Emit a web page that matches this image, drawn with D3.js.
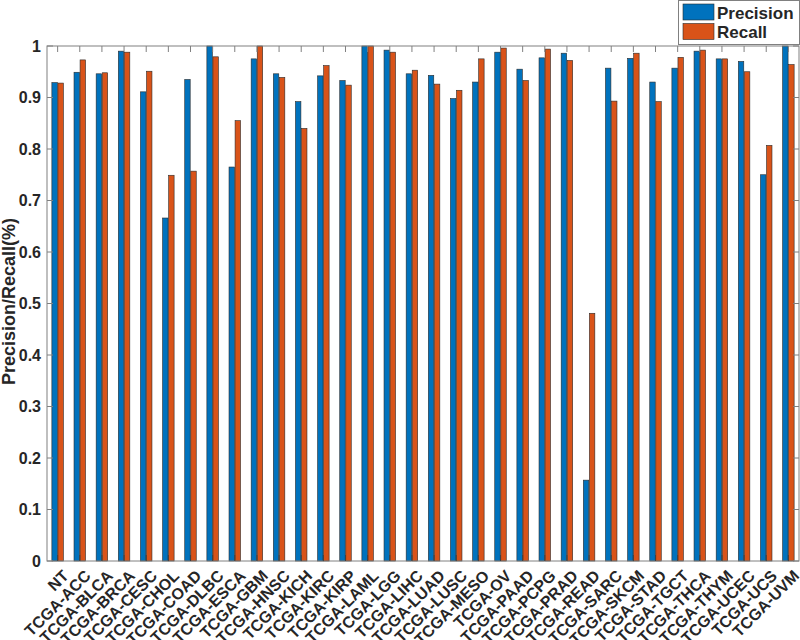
<!DOCTYPE html>
<html>
<head>
<meta charset="utf-8">
<script src="https://cdn.jsdelivr.net/npm/d3@7"></script>
<style>
  body { margin: 0; background: #fff; }
  text { font-family: "Liberation Sans", Arial, Helvetica, sans-serif; font-weight: bold; fill: #262626; }
</style>
</head>
<body>
<div id="chart"></div>
<script>
// classes on the x axis
var categories = ["NT","TCGA-ACC","TCGA-BLCA","TCGA-BRCA","TCGA-CESC","TCGA-CHOL","TCGA-COAD","TCGA-DLBC",
    "TCGA-ESCA","TCGA-GBM","TCGA-HNSC","TCGA-KICH","TCGA-KIRC","TCGA-KIRP","TCGA-LAML","TCGA-LGG",
    "TCGA-LIHC","TCGA-LUAD","TCGA-LUSC","TCGA-MESO","TCGA-OV","TCGA-PAAD","TCGA-PCPG","TCGA-PRAD",
    "TCGA-READ","TCGA-SARC","TCGA-SKCM","TCGA-STAD","TCGA-TGCT","TCGA-THCA","TCGA-THYM","TCGA-UCEC",
    "TCGA-UCS","TCGA-UVM"];

var precision = [0.929,0.949,0.946,0.990,0.911,0.666,0.935,1.000,
    0.765,0.975,0.946,0.892,0.942,0.933,1.000,0.992,
    0.946,0.943,0.898,0.930,0.988,0.955,0.977,0.986,
    0.157,0.957,0.976,0.930,0.957,0.990,0.975,0.970,
    0.750,1.000];

var recall = [0.928,0.973,0.948,0.988,0.951,0.749,0.757,0.979,
    0.855,1.000,0.939,0.840,0.962,0.924,1.000,0.988,
    0.953,0.926,0.914,0.975,0.996,0.933,0.994,0.972,
    0.481,0.893,0.986,0.892,0.978,0.992,0.975,0.950,
    0.807,0.964];

var series = ["Precision", "Recall"];
var colors = ["#0072BD", "#D95319"];
var yTicks = [0,0.1,0.2,0.3,0.4,0.5,0.6,0.7,0.8,0.9,1];

var width = 800, height = 640;
var mLeft = 47, mRight = 799, mTop = 46, mBottom = 561;

var svg = d3.select("#chart").append("svg")
    .attr("width", width)
    .attr("height", height);

var x = d3.scaleLinear()
    .domain([0.52, categories.length + 0.48])
    .range([mLeft, mRight]);

var y = d3.scaleLinear()
    .domain([0, 1])
    .range([mBottom, mTop]);

var step = x(2) - x(1);
var x1 = d3.scaleBand()
    .domain(series)
    .range([-0.26 * step, 0.26 * step])
    .paddingInner(0.1);

var rows = categories.map(function(c, i) {
    return { name: c, i: i + 1, values: [precision[i], recall[i]] };
});

// bars
var groups = svg.selectAll(".group")
    .data(rows)
    .enter().append("g")
    .attr("class", "group")
    .attr("transform", function(d) { return "translate(" + x(d.i) + ",0)"; });

groups.selectAll("rect")
    .data(function(d) { return d.values.map(function(v, k) { return { s: series[k], v: v, k: k }; }); })
    .enter().append("rect")
    .attr("x", function(d) { return x1(d.s); })
    .attr("width", x1.bandwidth())
    .attr("y", function(d) { return y(d.v); })
    .attr("height", function(d) { return y(0) - y(d.v); })
    .attr("fill", function(d) { return colors[d.k]; })
    .attr("stroke", "#2b2b2b")
    .attr("stroke-width", 0.6);

// frame
svg.append("rect")
    .attr("x", mLeft).attr("y", mTop)
    .attr("width", mRight - mLeft).attr("height", mBottom - mTop)
    .attr("fill", "none")
    .attr("stroke", "#808080")
    .attr("stroke-width", 1);

// ticks inside on all four sides
var tickLen = 6;
var xTicks = d3.range(1, categories.length + 1);
svg.selectAll(".xtb").data(xTicks).enter().append("line")
    .attr("x1", function(d) { return x(d); }).attr("x2", function(d) { return x(d); })
    .attr("y1", mBottom).attr("y2", mBottom - tickLen)
    .attr("stroke", "#404040");
svg.selectAll(".xtt").data(xTicks).enter().append("line")
    .attr("x1", function(d) { return x(d); }).attr("x2", function(d) { return x(d); })
    .attr("y1", mTop).attr("y2", mTop + tickLen)
    .attr("stroke", "#808080");
svg.selectAll(".ytl").data(yTicks).enter().append("line")
    .attr("x1", mLeft).attr("x2", mLeft + tickLen)
    .attr("y1", function(d) { return y(d); }).attr("y2", function(d) { return y(d); })
    .attr("stroke", "#808080");
svg.selectAll(".ytr").data(yTicks).enter().append("line")
    .attr("x1", mRight).attr("x2", mRight - tickLen)
    .attr("y1", function(d) { return y(d); }).attr("y2", function(d) { return y(d); })
    .attr("stroke", "#808080");

// y tick labels
svg.selectAll(".ylab").data(yTicks).enter().append("text")
    .attr("x", mLeft - 6)
    .attr("y", function(d) { return y(d); })
    .attr("dy", "0.35em")
    .attr("text-anchor", "end")
    .style("font-size", "16px")
    .text(function(d) { return d3.format("~g")(d); });

// x tick labels, rotated
svg.selectAll(".xlab").data(rows).enter().append("text")
    .attr("transform", function(d) { return "translate(" + (x(d.i) + 4) + "," + (mBottom + 8) + ") rotate(-45)"; })
    .attr("text-anchor", "end")
    .attr("dy", "0.7em")
    .style("font-size", "16px")
    .text(function(d) { return d.name; });

// y axis title
svg.append("text")
    .attr("transform", "translate(15," + ((mTop + mBottom) / 2 - 2) + ") rotate(-90)")
    .attr("text-anchor", "middle")
    .style("font-size", "18px")
    .text("Precision/Recall(%)");

// legend
var legend = svg.append("g").attr("transform", "translate(678,0)");
legend.append("rect")
    .attr("x", 0.5).attr("y", 0.5)
    .attr("width", 121).attr("height", 44)
    .attr("fill", "#fff")
    .attr("stroke", "#808080");
series.forEach(function(s, k) {
    legend.append("rect")
        .attr("x", 5).attr("y", 4 + k * 19.5)
        .attr("width", 31).attr("height", 16)
        .attr("fill", colors[k])
        .attr("stroke", "#2b2b2b")
        .attr("stroke-width", 0.6);
    legend.append("text")
        .attr("x", 39).attr("y", 18.5 + k * 19.5)
        .style("font-size", "17px")
        .text(s);
});
</script>
</body>
</html>
